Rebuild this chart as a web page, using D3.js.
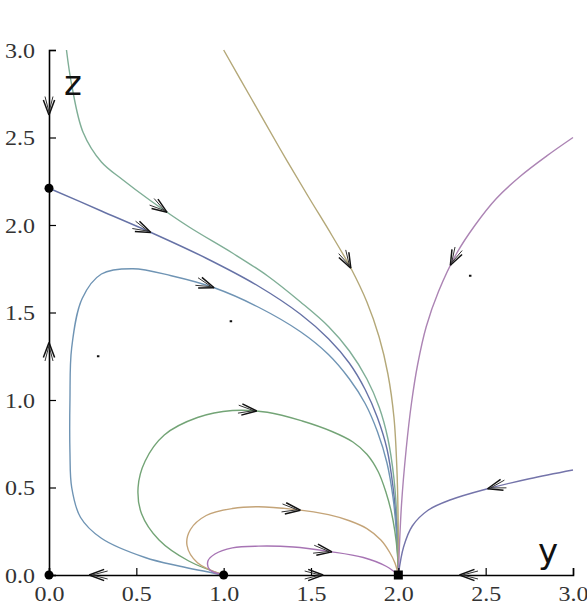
<!DOCTYPE html>
<html>
<head>
<meta charset="utf-8">
<script src="https://cdn.jsdelivr.net/npm/d3@7"></script>
<style>
  body { margin: 0; background: #fff; }
</style>
</head>
<body>
<div id="chart"></div>
<script>
// trajectories in (y, z), each ordered along the flow (all end in the node at (2, 0))
const greenTop = [[0.10,3.0],[0.13,2.8],[0.195,2.53],[0.30,2.36],[0.42,2.26],[0.58,2.14],[0.8,1.99],[1.05,1.84],[1.25,1.71],[1.44,1.56],[1.60,1.42],[1.72,1.28],[1.82,1.12],[1.89,0.96],[1.94,0.78],[1.975,0.55],[1.993,0.3],[2.0,0]];
const separatrix = [[0,2.21],[0.3,2.08],[0.6,1.95],[0.9,1.81],[1.2,1.65],[1.44,1.49],[1.60,1.35],[1.72,1.21],[1.81,1.06],[1.88,0.9],[1.935,0.72],[1.97,0.5],[1.99,0.27],[2.0,0]];
const bigLoop = [[1.0,0],[0.75,0.05],[0.55,0.1],[0.3,0.21],[0.18,0.33],[0.13,0.5],[0.12,0.7],[0.12,1.0],[0.13,1.3],[0.19,1.58],[0.3,1.72],[0.48,1.75],[0.7,1.71],[0.95,1.64],[1.2,1.53],[1.44,1.39],[1.60,1.26],[1.72,1.12],[1.81,0.98],[1.88,0.82],[1.935,0.64],[1.97,0.44],[1.99,0.23],[2.0,0]];
const midLoop = [[1.0,0],[0.8,0.08],[0.63,0.2],[0.53,0.35],[0.51,0.5],[0.55,0.65],[0.66,0.8],[0.85,0.9],[1.05,0.94],[1.25,0.93],[1.45,0.88],[1.62,0.82],[1.74,0.76],[1.82,0.69],[1.885,0.59],[1.93,0.47],[1.96,0.36],[1.98,0.25],[1.995,0.12],[2.0,0]];
const smallLoop = [[1.0,0],[0.85,0.07],[0.79,0.17],[0.81,0.26],[0.9,0.34],[1.05,0.38],[1.2,0.39],[1.4,0.375],[1.6,0.345],[1.72,0.31],[1.82,0.265],[1.9,0.2],[1.95,0.13],[1.98,0.07],[2.0,0]];
const tinyLoop = [[1.0,0],[0.92,0.03],[0.91,0.08],[0.95,0.12],[1.05,0.155],[1.2,0.165],[1.4,0.16],[1.6,0.135],[1.8,0.1],[1.93,0.05],[2.0,0]];
const fromTop = [[1.0,3.0],[1.16,2.72],[1.32,2.44],[1.48,2.17],[1.62,1.94],[1.73,1.75],[1.82,1.56],[1.89,1.36],[1.94,1.15],[1.975,0.9],[1.992,0.6],[1.999,0.3],[2.0,0]];
const rightUpper = [[3.0,2.5],[2.85,2.395],[2.7,2.28],[2.56,2.15],[2.44,2.0],[2.335,1.84],[2.23,1.62],[2.16,1.42],[2.11,1.2],[2.075,0.98],[2.045,0.72],[2.018,0.4],[2.0,0]];
const rightLower = [[3.0,0.6],[2.75,0.55],[2.5,0.49],[2.3,0.43],[2.17,0.37],[2.08,0.28],[2.03,0.16],[2.0,0]];

const trajectories = [greenTop, separatrix, bigLoop, midLoop, smallLoop, tinyLoop, fromTop, rightUpper, rightLower];
const trajColors = ["#7fae96", "#6672a6", "#6f94b4", "#73a476", "#c4a478", "#a774b4", "#b4a878", "#ac84b4", "#7474aa"];

// invariant axes, also ordered along the flow
const axisFlows = [[[0,3],[0,2.21]], [[0,0],[0,2.21]], [[1,0],[0,0]], [[1,0],[2,0]], [[3,0],[2,0]]];

// arrow tips (y, z)
const arrowTips = [[0,2.63],[0,1.33],[0.23,0],[1.57,0],[2.35,0],
  [0.675,2.07],[0.59,1.97],[0.94,1.63],[1.19,0.93],[1.44,0.38],[1.62,0.13],[1.74,1.76],[2.28,1.78],[2.51,0.5]];

const nodes = [[0,0],[1,0],[0,2.21]];
const saddleNode = [[2,0]];
const specks = [[0.28,1.25],[1.04,1.45],[2.41,1.71]];

const majorTicks = [0, 0.5, 1, 1.5, 2, 2.5, 3];
const minorTicks = d3.range(0, 31).map(i => i / 10);

const width = 587, height = 606;
const svg = d3.select("#chart").append("svg")
  .attr("width", width).attr("height", height);

const x = d3.scaleLinear().domain([0, 3]).range([49, 573]);
const z = d3.scaleLinear().domain([0, 3]).range([575, 50]);

const line = d3.line().x(d => x(d[0])).y(d => z(d[1])).curve(d3.curveCatmullRom.alpha(0.5));

// trajectories
const paths = svg.append("g").selectAll("path")
  .data(trajectories)
  .join("path")
  .attr("d", line)
  .attr("fill", "none")
  .attr("stroke", (d, i) => trajColors[i])
  .attr("stroke-width", 1.4);

const hidden = svg.append("g").selectAll("path")
  .data(axisFlows)
  .join("path")
  .attr("d", d3.line().x(d => x(d[0])).y(d => z(d[1])))
  .attr("fill", "none")
  .attr("stroke", "none");

// axes
const fmt = d3.format(".1f");
const xAxis = svg.append("g").attr("transform", `translate(0,${z(0)})`);
xAxis.call(d3.axisBottom(x).tickValues(minorTicks).tickSize(-4).tickFormat(""));
xAxis.call(d3.axisBottom(x).tickValues(majorTicks).tickSize(-7).tickPadding(12).tickFormat(fmt));

const yAxis = svg.append("g").attr("transform", `translate(${x(0)},0)`);
yAxis.call(d3.axisLeft(z).tickValues(minorTicks).tickSize(-5).tickFormat(""));
yAxis.call(d3.axisLeft(z).tickValues(majorTicks).tickSize(-7).tickPadding(14).tickFormat(fmt));

svg.selectAll(".domain").attr("stroke", "#000").attr("stroke-width", 1.6);
svg.selectAll(".tick line").attr("stroke", "#000").attr("stroke-width", 1.2);
svg.selectAll(".tick text")
  .attr("font-family", "'Liberation Serif', serif")
  .attr("font-size", 22)
  .attr("fill", "#333")
  .attr("textLength", 30)
  .attr("lengthAdjust", "spacingAndGlyphs");
xAxis.selectAll(".tick text").attr("dy", "0.62em");

// arrowheads: snap each tip to the nearest trajectory and follow its direction
const allPaths = paths.nodes().concat(hidden.nodes());
const arrowG = svg.append("g");
arrowTips.forEach(t => {
  const px = x(t[0]), py = z(t[1]);
  let best = null;
  allPaths.forEach(p => {
    const L = p.getTotalLength();
    for (let l = 0; l <= L; l += 0.5) {
      const q = p.getPointAtLength(l);
      const dd = (q.x - px) ** 2 + (q.y - py) ** 2;
      if (!best || dd < best.dd) best = { dd, p, l, L };
    }
  });
  const a = best.p.getPointAtLength(Math.max(0, best.l - 2));
  const b = best.p.getPointAtLength(Math.min(best.L, best.l + 2));
  const tip = best.p.getPointAtLength(best.l);
  const ang = Math.atan2(b.y - a.y, b.x - a.x);
  const len = 16, spread = 0.36;
  [-spread, spread].forEach(s => {
    arrowG.append("line")
      .attr("x1", tip.x).attr("y1", tip.y)
      .attr("x2", tip.x - len * Math.cos(ang + s))
      .attr("y2", tip.y - len * Math.sin(ang + s))
      .attr("stroke", "#111").attr("stroke-width", 1.5);
    arrowG.append("line")
      .attr("x1", tip.x - 3 * Math.cos(ang)).attr("y1", tip.y - 3 * Math.sin(ang))
      .attr("x2", tip.x - 3 * Math.cos(ang) - len * Math.cos(ang + s * 0.7))
      .attr("y2", tip.y - 3 * Math.sin(ang) - len * Math.sin(ang + s * 0.7))
      .attr("stroke", "#333").attr("stroke-width", 1);
  });
});

// fixed points
svg.append("g").selectAll("circle")
  .data(nodes)
  .join("circle")
  .attr("cx", d => x(d[0])).attr("cy", d => z(d[1]))
  .attr("r", 4.5).attr("fill", "#000");

svg.append("g").selectAll("rect")
  .data(saddleNode)
  .join("rect")
  .attr("x", d => x(d[0]) - 4.5).attr("y", d => z(d[1]) - 4.5)
  .attr("width", 9).attr("height", 9).attr("fill", "#000");

svg.append("g").selectAll("rect")
  .data(specks)
  .join("rect")
  .attr("x", d => x(d[0]) - 1).attr("y", d => z(d[1]) - 1)
  .attr("width", 2.5).attr("height", 2).attr("fill", "#111");

// axis names
svg.append("text")
  .attr("x", 64).attr("y", 95)
  .attr("font-family", "'DejaVu Sans', sans-serif")
  .attr("font-size", 34)
  .attr("fill", "#111")
  .text("z");

svg.append("text")
  .attr("x", 538).attr("y", 563)
  .attr("font-family", "'DejaVu Sans', sans-serif")
  .attr("font-size", 34)
  .attr("fill", "#111")
  .text("y");
</script>
</body>
</html>
